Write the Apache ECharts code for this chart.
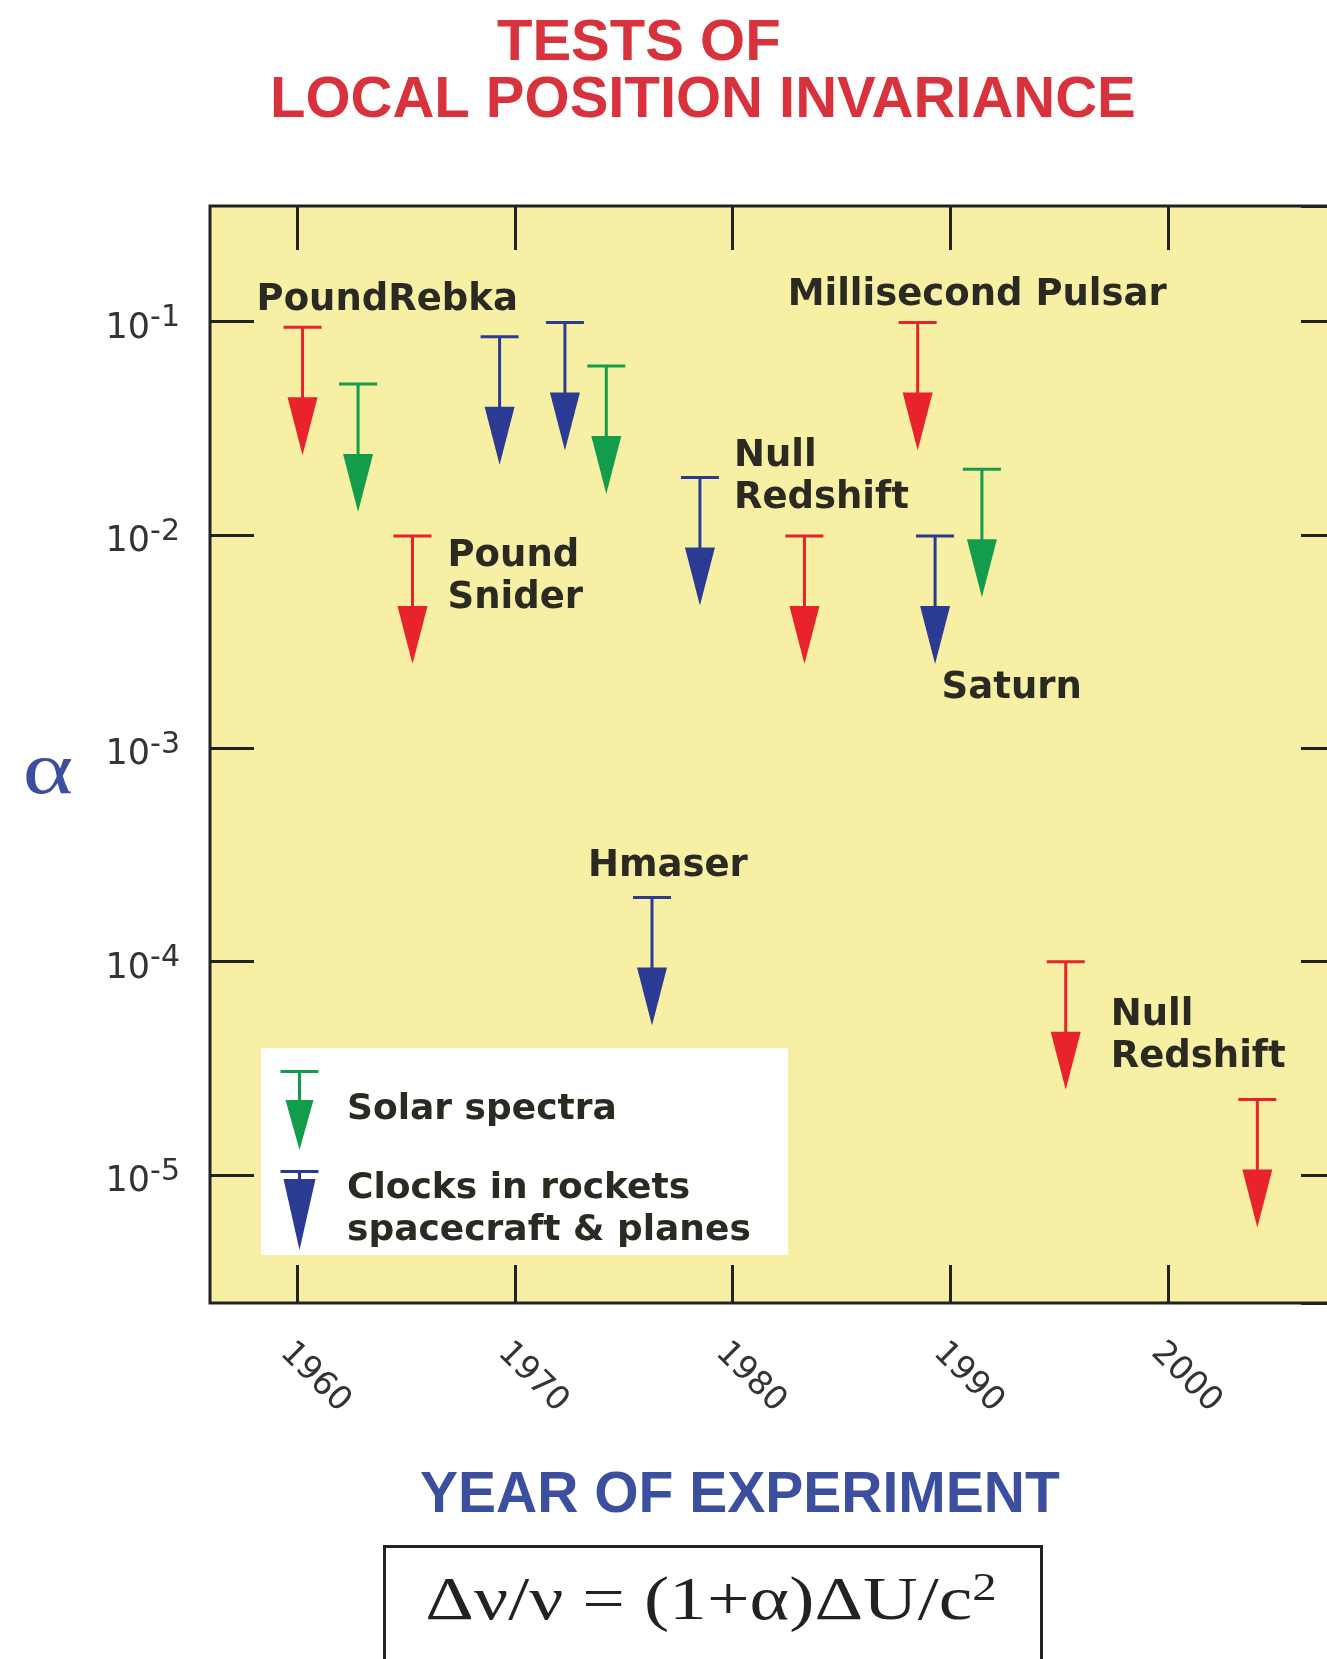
<!DOCTYPE html>
<html>
<head>
<meta charset="utf-8">
<title>Tests of Local Position Invariance</title>
<script src="https://cdn.jsdelivr.net/npm/echarts@6/dist/echarts.min.js"></script>
<style>
  html, body { margin: 0; padding: 0; background: #ffffff; overflow: hidden; width: 1327px; height: 1659px; }
  #chart { width: 1360px; height: 1659px; }
</style>
</head>
<body>
<div id="chart"></div>
<script>
// ---- data -------------------------------------------------------------
const yearTicks = [1960, 1970, 1980, 1990, 2000];

// Other redshift experiments (red, no legend entry)
const otherYears = [1960.25, 1965.3, 1983.3, 1988.5, 1995.3, 2004.1];
const otherAlpha = [0.094, 0.0099, 0.0099, 0.099, 1.0e-4, 2.26e-5];
const otherNotes = ['PoundRebka', 'Pound\nSnider', '', 'Millisecond Pulsar', 'Null\nRedshift', ''];

// Solar spectra (green)
const solarYears = [1962.8, 1974.2, 1991.45];
const solarAlpha = [0.051, 0.062, 0.0203];
const solarNotes = ['', '', ''];

// Clocks in rockets, spacecraft & planes (blue)
const clockYears = [1969.3, 1972.3, 1976.3, 1978.5, 1989.3];
const clockAlpha = [0.085, 0.099, 2.0e-4, 0.0186, 0.0099];
const clockNotes = ['', '', 'Hmaser', 'Null\nRedshift', 'Saturn'];

// ---- styling ----------------------------------------------------------
const RED = '#e8232b';
const GREEN = '#139c4c';
const BLUE = '#2b3a92';
const INK = '#222222';
const LABEL_INK = '#2a2a22';
const TICK_FONT = '"DejaVu Sans", "Liberation Sans", Arial, sans-serif';

// text anchor offsets (px) of each note from the top cap of its arrow
const otherNoteOffsets = {
  'PoundRebka': [-46, -27],
  'Pound\nSnider': [35, 41],
  'Millisecond Pulsar': [-130, -27.5],
  'Null\nRedshift': [45, 75]
};
const clockNoteOffsets = {
  'Hmaser': [-64, -31],
  'Null\nRedshift': [34, 0],
  'Saturn': [6.5, 152]
};

const NOTE_FONT = {
  fontFamily: '"DejaVu Sans", "Liberation Sans", sans-serif',
  fontWeight: 'bold',
  fontSize: 37,
  lineHeight: 42,
  fill: LABEL_INK,
  align: 'left',
  verticalAlign: 'middle'
};

// legend glyphs: cap, short stem and head, drawn in a 38 x 80 box
const SOLAR_ICON = 'path://M0,0H38V3H20.5V30H33L19,80L5,30H17.5V3H0Z';
const CLOCK_ICON = 'path://M0,0H38V3H20.5V9H35L19,80L3,9H17.5V3H0Z';

function pairs(xs, ys) {
  return xs.map(function (x, i) { return [x, ys[i]]; });
}

// upper-limit arrow: cap at the bound, stem and filled head pointing down
function arrowRenderer(notes, offsets) {
  return function (params, api) {
    const p = api.coord([api.value(0), api.value(1)]);
    const x = p[0], y = p[1];
    const color = api.visual('color');
    const children = [
      { type: 'line', shape: { x1: x - 19, y1: y, x2: x + 19, y2: y }, style: { stroke: color, lineWidth: 3 } },
      { type: 'line', shape: { x1: x, y1: y, x2: x, y2: y + 74 }, style: { stroke: color, lineWidth: 3 } },
      { type: 'polygon', shape: { points: [[x - 15, y + 70], [x + 15, y + 70], [x, y + 128]] }, style: { fill: color } }
    ];
    const note = notes[params.dataIndex];
    if (note) {
      const off = offsets[note];
      children.push({
        type: 'text',
        x: x + off[0],
        y: y + off[1],
        style: Object.assign({ text: note }, NOTE_FONT)
      });
    }
    return { type: 'group', children: children };
  };
}

const Y_MIN = Math.pow(10, -5.6);
const Y_MAX = Math.pow(10, -0.458);
const X_MIN = 1956;
const X_MAX = 2007.85;

function powerLabel(v) {
  const lg = Math.log10(v);
  const e = Math.round(lg);
  if (Math.abs(lg - e) > 1e-6) return '';
  return '{b|10}{s|' + e + '}';
}

const chart = echarts.init(document.getElementById('chart'), null, { renderer: 'canvas' });

chart.setOption({
  backgroundColor: '#ffffff',
  animation: false,
  grid: {
    left: 210, top: 206, right: 21, bottom: 356,
    show: true,
    backgroundColor: '#f7efa4',
    borderColor: INK,
    borderWidth: 3
  },
  xAxis: [
    {
      type: 'value', position: 'bottom', min: X_MIN, max: X_MAX,
      axisLine: { show: false },
      splitLine: { show: false },
      axisTick: { inside: true, length: 38, customValues: yearTicks, lineStyle: { color: INK, width: 3 } },
      axisLabel: {
        customValues: yearTicks, rotate: -45, margin: 33,
        align: 'left', verticalAlign: 'top',
        fontFamily: TICK_FONT, fontSize: 33, color: '#333333',
        formatter: function (v) { return String(v); }
      }
    },
    {
      type: 'value', position: 'top', min: X_MIN, max: X_MAX,
      axisLine: { show: false },
      splitLine: { show: false },
      axisTick: { inside: true, length: 44, customValues: yearTicks, lineStyle: { color: INK, width: 3 } },
      axisLabel: { show: false }
    }
  ],
  yAxis: [
    {
      type: 'log', logBase: 10, position: 'left', min: Y_MIN, max: Y_MAX,
      axisLine: { show: false },
      splitLine: { show: false },
      axisTick: { inside: true, length: 44, lineStyle: { color: INK, width: 3 } },
      axisLabel: {
        margin: 30, showMinLabel: false, showMaxLabel: false,
        padding: [14, 0, 0, 0],
        formatter: powerLabel,
        rich: {
          b: { fontFamily: TICK_FONT, fontSize: 35, color: '#333333' },
          s: { fontFamily: TICK_FONT, fontSize: 30, color: '#333333', padding: [0, 0, 20, 0] }
        }
      }
    },
    {
      type: 'log', logBase: 10, position: 'right', min: Y_MIN, max: Y_MAX,
      axisLine: { show: false },
      splitLine: { show: false },
      axisTick: { inside: true, length: 38, lineStyle: { color: INK, width: 3 } },
      axisLabel: { show: false }
    }
  ],
  legend: {
    data: [
      { name: 'Solar spectra', icon: SOLAR_ICON },
      { name: 'Clocks in rockets\nspacecraft & planes', icon: CLOCK_ICON }
    ],
    orient: 'vertical',
    left: 261, top: 1048,
    padding: [22, 37, 3, 19.5],
    itemWidth: 38, itemHeight: 80, itemGap: 18,
    backgroundColor: '#ffffff',
    selectedMode: false,
    textStyle: {
      fontFamily: '"DejaVu Sans", "Liberation Sans", sans-serif',
      fontWeight: 'bold', fontSize: 36, lineHeight: 42, color: LABEL_INK,
      padding: [0, 0, 0, 23.5]
    }
  },
  series: [
    {
      name: 'Other experiments', type: 'custom', xAxisIndex: 0, yAxisIndex: 0,
      itemStyle: { color: RED },
      renderItem: arrowRenderer(otherNotes, otherNoteOffsets),
      data: pairs(otherYears, otherAlpha)
    },
    {
      name: 'Solar spectra', type: 'custom', xAxisIndex: 0, yAxisIndex: 0,
      itemStyle: { color: GREEN },
      renderItem: arrowRenderer(solarNotes, {}),
      data: pairs(solarYears, solarAlpha)
    },
    {
      name: 'Clocks in rockets\nspacecraft & planes', type: 'custom', xAxisIndex: 0, yAxisIndex: 0,
      itemStyle: { color: BLUE },
      renderItem: arrowRenderer(clockNotes, clockNoteOffsets),
      data: pairs(clockYears, clockAlpha)
    }
  ],
  graphic: [
    {
      type: 'text', left: 497, top: 15,
      style: { text: 'TESTS OF', fontFamily: '"Liberation Sans", Arial, sans-serif', fontWeight: 'bold', fontSize: 58, fill: '#d8323c' }
    },
    {
      type: 'text', left: 270, top: 72,
      style: { text: 'LOCAL POSITION INVARIANCE', fontFamily: '"Liberation Sans", Arial, sans-serif', fontWeight: 'bold', fontSize: 58, fill: '#d8323c' }
    },
    {
      type: 'text', left: 420, top: 1468,
      style: { text: 'YEAR OF EXPERIMENT', fontFamily: '"Liberation Sans", Arial, sans-serif', fontWeight: 'bold', fontSize: 57, fill: '#3c4f9e' }
    },
    {
      type: 'text', x: 48, y: 774, scaleX: 1.3,
      style: { text: 'α', align: 'center', verticalAlign: 'middle', fontFamily: '"Liberation Serif", "DejaVu Serif", serif', fontSize: 74, fill: '#3c4f9e' }
    },
    {
      type: 'rect', left: 383, top: 1545,
      shape: { width: 657, height: 200 },
      style: { fill: '#ffffff', stroke: INK, lineWidth: 3 }
    },
    {
      type: 'text', x: 711, y: 1603, scaleX: 1.22,
      style: {
        text: '{n|Δν/ν = (1+α)ΔU/c}{p|2}',
        align: 'center', verticalAlign: 'middle',
        rich: {
          n: { fontFamily: '"Liberation Serif", "DejaVu Serif", serif', fontSize: 62, fill: '#222222' },
          p: { fontFamily: '"Liberation Serif", "DejaVu Serif", serif', fontSize: 40, fill: '#222222', padding: [0, 0, 28, 0] }
        }
      }
    }
  ]
});
</script>
</body>
</html>
